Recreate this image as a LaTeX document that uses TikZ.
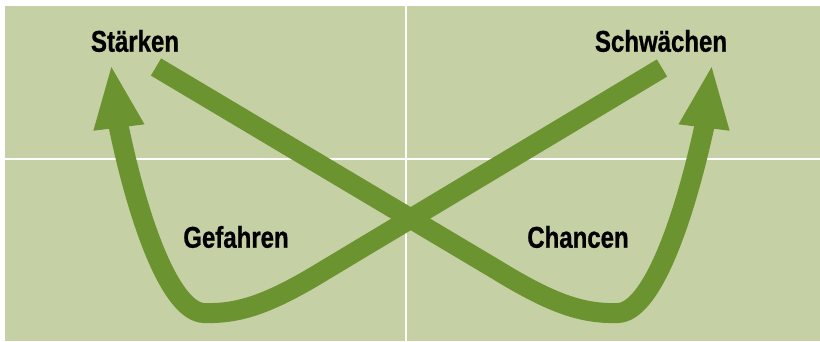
\documentclass[tikz,border=0pt]{standalone}
\usepackage{fontspec}
\setmainfont{Liberation Sans}[FakeStretch=0.8, BoldFeatures={FakeBold=0.8}]
\usetikzlibrary{arrows.meta}

\definecolor{feld}{HTML}{C5D0A5}
\definecolor{pfeil}{HTML}{6B9430}

\tikzset{
	swotlabel/.style={font=\bfseries\fontsize{30}{30}\selectfont, inner sep=0pt},
	swotarrow/.style={draw=pfeil, line width=20pt, -{Triangle[length=64pt, width=46pt]}}
}

\begin{document}
\begin{tikzpicture}[x=1pt, y=-1pt]
				\useasboundingbox (0,0) rectangle (820,341);
				% Background
				\fill[white] (0,0) rectangle (820,341);
				\fill[feld] (5,6) rectangle (820,341);
				% Quadrants
				\draw[white, line width=2.5pt] (406,6) -- (406,341);
				\draw[white, line width=2.5pt] (5,159) -- (820,159);
				% Labels
				\node[swotlabel] (staerken) at (135,41) {Stärken};
				\node[swotlabel] (schwaechen) at (661,41) {Schwächen};
				\node[swotlabel] (gefahren) at (236,237) {Gefahren};
				\node[swotlabel] (chancen) at (578,237) {Chancen};
				% Arrow ends
				\coordinate (startA) at (662,68);
				\coordinate (tipA) at (111,64);
				\coordinate (startB) at (156,67);
				\coordinate (tipB) at (712,64);
				% Arrows
				\draw[swotarrow] (startA) -- (325,270)
					.. controls (268,305) and (238,314) .. (204,313)
					.. controls (172,312) and (140,228) .. (119,128) -- (tipA);
				\draw[swotarrow] (startB) -- (497,270)
					.. controls (554,305) and (584,314) .. (618,313)
					.. controls (650,312) and (682,228) .. (704,128) -- (tipB);
			\end{tikzpicture}
\end{document}
